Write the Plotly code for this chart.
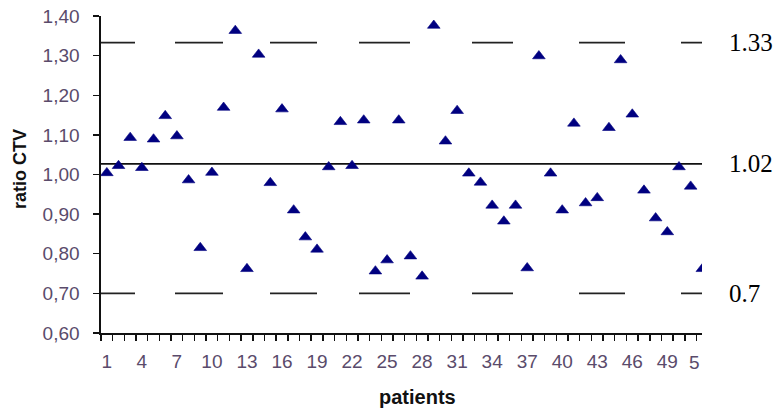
import plotly.graph_objects as go

# ---- data ----
patients = list(range(1, 53))
ratio_ctv = [1.004, 1.022, 1.093, 1.017, 1.089, 1.148, 1.097, 0.986, 0.815, 1.005,
             1.169, 1.363, 0.762, 1.303, 0.979, 1.165, 0.910, 0.842, 0.811, 1.019,
             1.133, 1.022, 1.137, 0.756, 0.784, 1.137, 0.794, 0.743, 1.376, 1.084,
             1.161, 1.003, 0.980, 0.922, 0.882, 0.922, 0.764, 1.299, 1.003, 0.910,
             1.129, 0.928, 0.941, 1.118, 1.289, 1.152, 0.960, 0.890, 0.855, 1.019,
             0.970, 0.762]
mean_line = 1.027
limit_lines = [1.333, 0.70]
right_labels = [("1.33", 1.333), ("1.02", 1.027), ("0.7", 0.70)]
y_ticks = [0.60, 0.70, 0.80, 0.90, 1.00, 1.10, 1.20, 1.30, 1.40]
x_tick_patients = list(range(1, 50, 3))
x_tick_labels = [str(p) for p in x_tick_patients]
cropped_last_label = "5"

tick_font = dict(family="Liberation Sans, Arial, sans-serif", size=19, color="#5a4b6b")
dash_pattern = "34px,40px,48px,47px,47px,42px,51px,62px,41px,66px,46px,56px,30px"

PL, PR, PT, PB = 101, 72, 16, 80
PW = 774 - PL - PR
PH = 413 - PT - PB

fig = go.Figure()
fig.add_trace(go.Scatter(
    x=patients, y=ratio_ctv, mode="markers",
    marker=dict(symbol="triangle-up", size=11, color="#000080",
                line=dict(width=0.6, color="#000080")),
    cliponaxis=True, showlegend=False, hoverinfo="skip",
))

# reference lines
fig.add_shape(type="line", xref="paper", yref="y", x0=0, x1=1, y0=mean_line, y1=mean_line,
              line=dict(color="#111111", width=1.7), layer="below")
for v in limit_lines:
    fig.add_shape(type="line", xref="paper", yref="y", x0=0, x1=1, y0=v, y1=v,
                  line=dict(color="#222222", width=1.8, dash=dash_pattern), layer="below")

for txt, v in right_labels:
    fig.add_annotation(x=(727 - PL) / PW, xref="paper", y=v, yref="y", text=txt, showarrow=False,
                       xanchor="left", yanchor="middle",
                       font=dict(family="Liberation Serif, Times New Roman, serif", size=25, color="#000000"))

# axis titles
fig.add_annotation(x=(417 - PL) / PW, xref="paper", y=-(397 - PT - PH) / PH, yref="paper",
                   text="<b>patients</b>", showarrow=False, xanchor="center", yanchor="middle",
                   font=dict(family="Liberation Sans, Arial, sans-serif", size=20, color="#111111"))
fig.add_annotation(x=-(PL - 20) / PW, xref="paper", y=(PT + PH - 169) / PH, yref="paper",
                   text="<b>ratio CTV</b>", showarrow=False,
                   textangle=-90, xanchor="center", yanchor="middle",
                   font=dict(family="Liberation Sans, Arial, sans-serif", size=18, color="#111111"))
# cropped last tick label
fig.add_annotation(x=1.0, xref="paper", y=-(362 - PT - PH) / PH, yref="paper", text=cropped_last_label,
                   showarrow=False, xanchor="right", yanchor="middle", font=tick_font)

fig.update_layout(
    width=774, height=413,
    margin=dict(l=PL, r=PR, t=PT, b=PB, autoexpand=False),
    paper_bgcolor="white", plot_bgcolor="white",
    separators=",.",
    xaxis=dict(range=[0.5, 51.97], tickmode="array", tickvals=x_tick_patients, ticktext=x_tick_labels,
               ticks="outside", ticklen=0, tickfont=tick_font, ticklabelstandoff=11, automargin=False,
               showgrid=False, zeroline=False, showline=True, linecolor="#111111", linewidth=1.6,
               minor=dict(tickmode="linear", tick0=0.5, dtick=1, ticks="outside", ticklen=6,
                          tickcolor="#111111", tickwidth=1.4, showgrid=False)),
    yaxis=dict(range=[0.60, 1.40], tickmode="array", tickvals=y_ticks, tickformat=".2f",
               ticks="outside", ticklen=6, tickcolor="#111111", tickwidth=1.4, tickfont=tick_font,
               ticklabelstandoff=10, automargin=False,
               showgrid=False, zeroline=False, showline=True, linecolor="#111111", linewidth=1.6),
)

fig.write_html("out.html", config={"displayModeBar": False, "staticPlot": True},
               post_script="document.body.style.margin='0';document.body.style.overflow='hidden';")
